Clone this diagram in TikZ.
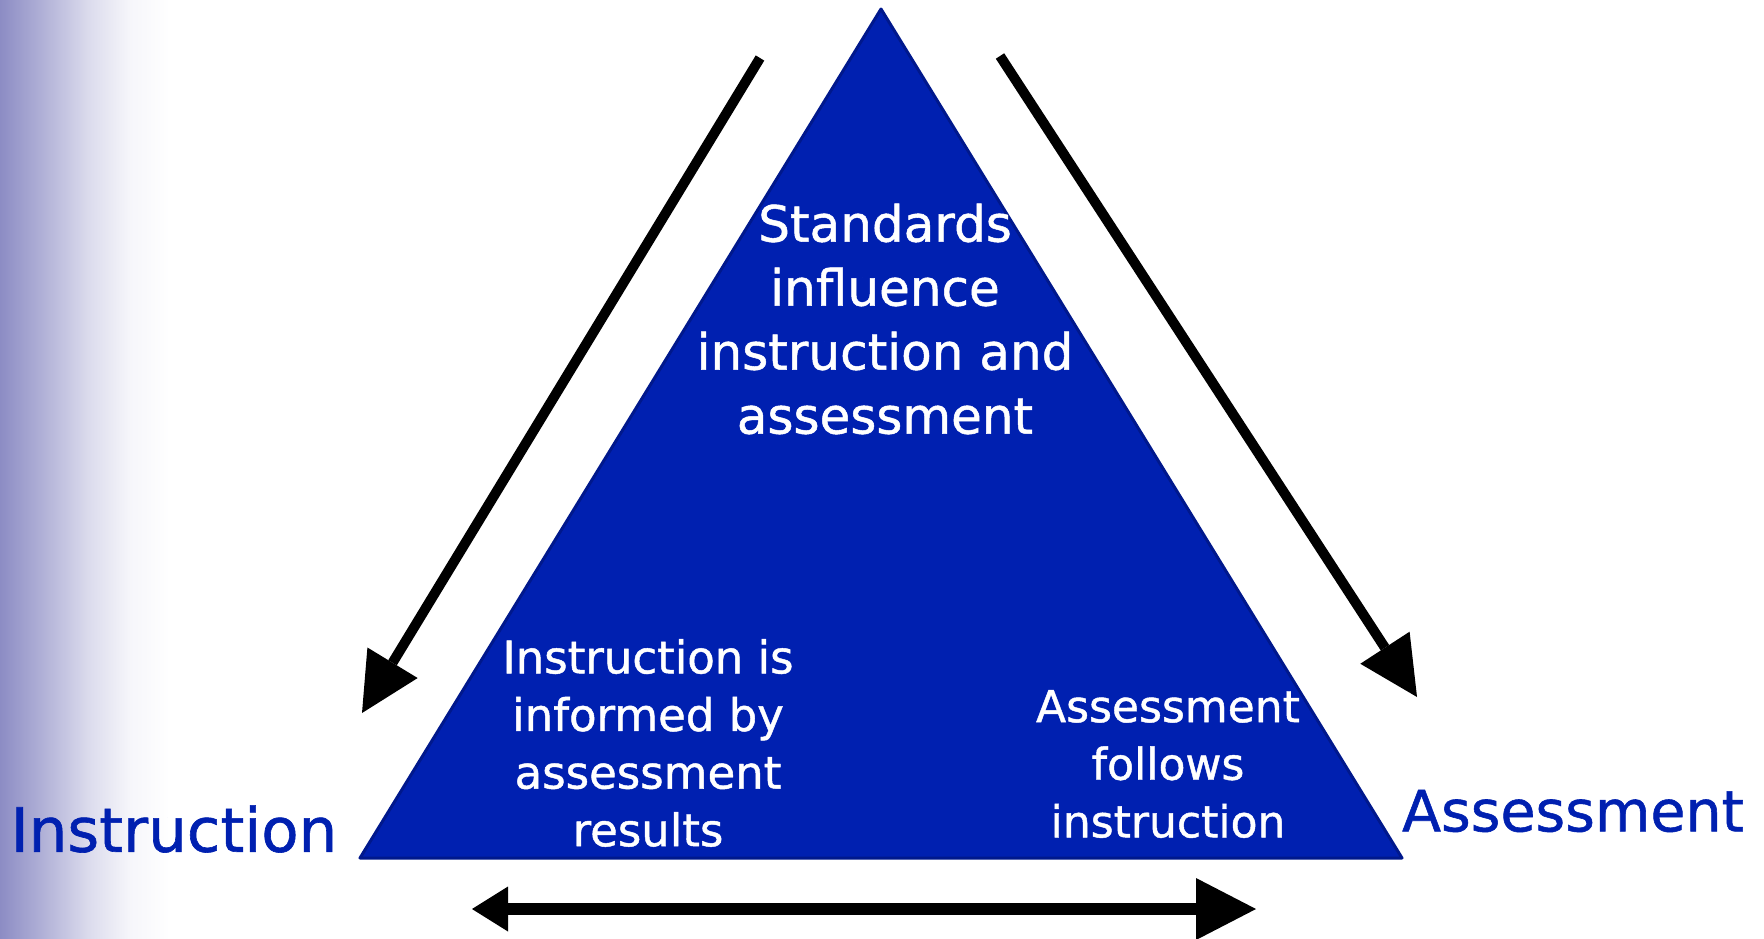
\documentclass[tikz,border=0pt]{standalone}
\usepackage{fontspec}
\setmainfont{DejaVu Sans}[FakeBold=1]
\usetikzlibrary{arrows.meta}
\definecolor{triblue}{RGB}{0,32,176}
\definecolor{triedge}{RGB}{0,24,140}
\definecolor{sidebar}{RGB}{140,140,196}
\pgfdeclarehorizontalshading{sidefade}{100bp}{color(0bp)=(sidebar); color(25bp)=(sidebar);
	color(36.8bp)=(sidebar!70); color(51.5bp)=(sidebar!30); color(63.2bp)=(sidebar!8);
	color(75bp)=(white); color(100bp)=(white)}
\tikzset{
	inner/.style={align=center, text=white, inner sep=0pt},
	outer/.style={text=triblue, inner sep=0pt},
	bigarrow/.style={line width=5pt, -{Triangle[length=29.4pt, width=29.4pt, line width=0pt]}}
}
\begin{document}
\begin{tikzpicture}[x=0.5pt, y=-0.5pt]
	\useasboundingbox (0,0) rectangle (1764,938);
	\shade[shading=sidefade] (0,0) rectangle (170,938);

	% triangle
	\coordinate (apex) at (881,9);
	\coordinate (bl) at (360,858);
	\coordinate (br) at (1402,858);
	\filldraw[fill=triblue, draw=triedge, line width=1.5pt, line join=round] (apex) -- (bl) -- (br) -- cycle;

	\node[inner, font=\fontsize{25}{32}\selectfont] (std) at (885,319) {Standards\\influence\\instruction and\\assessment};
	\node[inner, font=\fontsize{22.5}{28.8}\selectfont] (inf) at (648,743) {Instruction is\\informed by\\assessment\\results};
	\node[inner, font=\fontsize{22}{28.8}\selectfont] (fol) at (1168,764) {Assessment\\follows\\instruction};

	\node[outer, font=\fontsize{30.5}{36}\selectfont] (instr) at (174,829) {Instruction};
	\node[outer, font=\fontsize{28.5}{34}\selectfont] (assess) at (1573,811) {Assessment};

	% arrows
	\coordinate (ls) at (760,58);
	\coordinate (lt) at (362,713);
	\coordinate (rs) at (1000,56);
	\coordinate (rt) at (1417,697);
	\coordinate (bs) at (472,909);
	\coordinate (bt) at (1256,909);
	\draw[bigarrow] (ls) -- (lt);
	\draw[bigarrow] (rs) -- (rt);
	\draw[line width=6pt, {Triangle[length=18pt, width=22.5pt, line width=0pt]}-{Triangle[length=30pt, width=31pt, line width=0pt]}] (bs) -- (bt);
\end{tikzpicture}
\end{document}
